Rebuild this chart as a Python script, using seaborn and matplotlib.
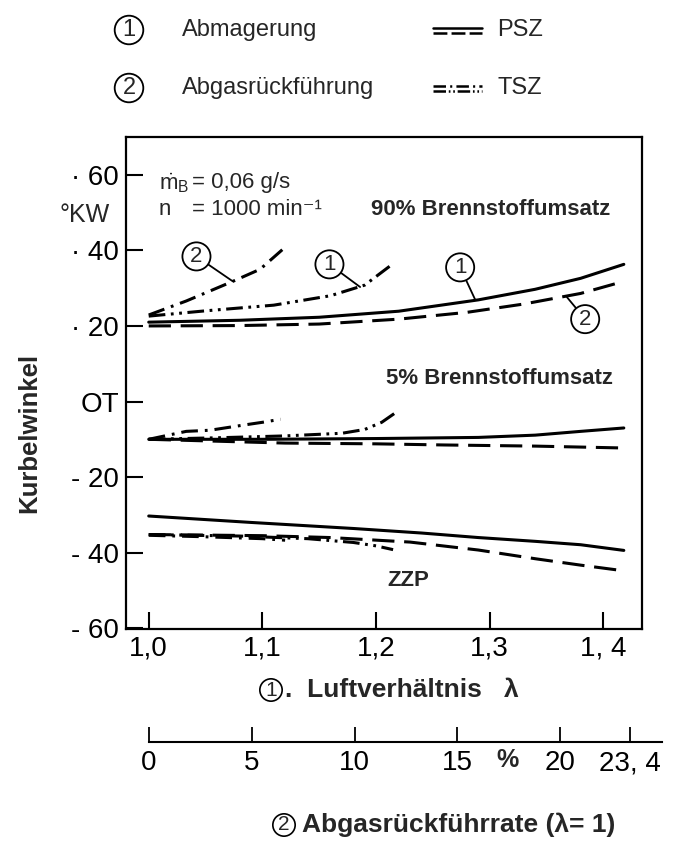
import numpy as np
import pandas as pd
import matplotlib.pyplot as plt
import seaborn as sns
from matplotlib.lines import Line2D

# Kurbelwinkel ueber Luftverhaeltnis (Abmagerung / Abgasrueckfuehrung)

sns.set_style('white')
plt.rcParams['font.family'] = ['Liberation Sans', 'DejaVu Sans']
plt.rcParams['mathtext.fontset'] = 'custom'
plt.rcParams['mathtext.rm'] = 'Liberation Sans'
plt.rcParams['mathtext.it'] = 'Liberation Sans:italic'
plt.rcParams['lines.scale_dashes'] = False

# 90% Brennstoffumsatz
lam_90_psz1 = [1.0, 1.08, 1.15, 1.22, 1.29, 1.34, 1.38, 1.418]
kw_90_psz1 = [21.0, 21.5, 22.3, 23.9, 26.9, 29.7, 32.6, 36.3]
lam_90_psz2 = [1.0, 1.08, 1.15, 1.22, 1.28, 1.33, 1.38, 1.418]
kw_90_psz2 = [20.0, 20.1, 20.5, 21.8, 23.6, 25.8, 28.6, 31.8]
lam_90_tsz1 = [1.0, 1.05, 1.11, 1.16, 1.19, 1.212]
kw_90_tsz1 = [22.6, 24.0, 25.5, 28.0, 30.8, 35.8]
lam_90_tsz2 = [1.0, 1.033, 1.074, 1.098, 1.118]
kw_90_tsz2 = [22.9, 26.6, 31.8, 35.0, 40.3]

# 5% Brennstoffumsatz
lam_5_psz1 = [1.0, 1.1, 1.2, 1.29, 1.34, 1.38, 1.418]
kw_5_psz1 = [-10.0, -10.0, -9.8, -9.5, -8.9, -7.9, -7.0]
lam_5_psz2 = [1.0, 1.06, 1.12, 1.2, 1.26, 1.34, 1.418]
kw_5_psz2 = [-10.0, -10.5, -11.0, -11.2, -11.5, -11.8, -12.3]
lam_5_tsz1 = [1.0, 1.06, 1.12, 1.17, 1.19, 1.205, 1.216]
kw_5_tsz1 = [-10.0, -9.6, -9.1, -8.4, -7.4, -5.5, -3.2]
lam_5_tsz2 = [1.0, 1.033, 1.054, 1.082, 1.1, 1.116]
kw_5_tsz2 = [-10.0, -7.9, -7.6, -6.3, -5.5, -4.7]

# ZZP
lam_zzp_psz1 = [1.0, 1.09, 1.18, 1.24, 1.29, 1.34, 1.38, 1.418]
kw_zzp_psz1 = [-30.3, -32.0, -33.6, -34.8, -36.0, -37.0, -37.9, -39.4]
lam_zzp_psz2 = [1.0, 1.1, 1.16, 1.23, 1.29, 1.34, 1.38, 1.418]
kw_zzp_psz2 = [-35.2, -35.5, -36.0, -37.2, -39.3, -41.6, -43.3, -44.8]
lam_zzp_tsz1 = [1.0, 1.08, 1.14, 1.18, 1.2, 1.215]
kw_zzp_tsz1 = [-35.2, -35.6, -36.3, -37.3, -38.2, -39.2]
lam_zzp_tsz2 = [1.0, 1.05, 1.1, 1.12]
kw_zzp_tsz2 = [-35.4, -35.8, -36.3, -36.7]

lam_ticks = [1.0, 1.1, 1.2, 1.3, 1.4]
lam_labels = ['1,0', '1,1', '1,2', '1,3', '1, 4']
kw_ticks = [60, 40, 20, 0, -20, -40, -60]
kw_labels = ['· 60', '· 40', '· 20', 'OT', '- 20', '- 40', '- 60']
agr_ticks = [0, 5, 10, 15, 20, 23.4]
agr_labels = ['0', '5', '10', '15', '20', '23, 4']

kurven = [
    (lam_90_psz1, kw_90_psz1, 'PSZ1'), (lam_90_psz2, kw_90_psz2, 'PSZ2'),
    (lam_90_tsz1, kw_90_tsz1, 'TSZ1'), (lam_90_tsz2, kw_90_tsz2, 'TSZ2'),
    (lam_5_psz1, kw_5_psz1, 'PSZ1'), (lam_5_psz2, kw_5_psz2, 'PSZ2'),
    (lam_5_tsz1, kw_5_tsz1, 'TSZ1'), (lam_5_tsz2, kw_5_tsz2, 'TSZ2'),
    (lam_zzp_psz1, kw_zzp_psz1, 'PSZ1'), (lam_zzp_psz2, kw_zzp_psz2, 'PSZ2'),
    (lam_zzp_tsz1, kw_zzp_tsz1, 'TSZ1'), (lam_zzp_tsz2, kw_zzp_tsz2, 'TSZ2'),
]
stile = {
    'PSZ1': '-',
    'PSZ2': (0, (16, 7)),
    'TSZ1': (0, (12, 4, 2, 4, 2, 4)),
    'TSZ2': (0, (12, 5, 2, 5)),
}

W, H = 676, 842
fig = plt.figure(figsize=(W / 100, H / 100), dpi=100)
fig.patch.set_facecolor('white')
ax = fig.add_axes([126 / W, 1 - 629 / H, 516 / W, 492 / H])

for lam, kw, art in kurven:
    df = pd.DataFrame({'lam': lam, 'kw': kw})
    sns.lineplot(data=df, x='lam', y='kw', ax=ax, color='black', lw=2.2,
                 linestyle=stile[art], errorbar=None)

ax.set_xlim(0.980, 1.434)
ax.set_ylim(-60.2, 70)
ax.set_xticks(lam_ticks, labels=lam_labels)
ax.set_yticks(kw_ticks, labels=kw_labels)
ax.tick_params(direction='in', length=12, width=1.5, labelsize=20, pad=5,
               bottom=True, left=True, colors='black')
ax.set_xlabel('')
ax.set_ylabel('')
for s in ax.spines.values():
    s.set_linewidth(1.6)
    s.set_color('black')

# Texte im Diagramm
ax.text(1.009, 57.9, r'$\dot{\mathrm{m}}_{\mathrm{B}}$', fontsize=16, va='center', ha='left')
ax.text(1.038, 57.9, '= 0,06 g/s', fontsize=16, va='center', ha='left')
ax.text(1.009, 50.8, 'n', fontsize=16, va='center', ha='left')
ax.text(1.038, 50.8, '= 1000 min⁻¹', fontsize=16, va='center', ha='left')
ax.text(1.196, 50.8, '90% Brennstoffumsatz', fontsize=16, fontweight='bold', va='center', ha='left')
ax.text(1.209, 6.0, '5% Brennstoffumsatz', fontsize=16, fontweight='bold', va='center', ha='left')
ax.text(1.21, -47.4, 'ZZP', fontsize=16, fontweight='bold', va='center', ha='left')

kreis = dict(boxstyle='circle,pad=0.16', fc='white', ec='black', lw=1.3)
pfeil = dict(arrowstyle='-', lw=1.3, color='black', shrinkA=0, shrinkB=0)
for nr, ziel, pos in [('2', (1.074, 31.8), (1.042, 38.4)),
                      ('1', (1.186, 30.3), (1.159, 36.3)),
                      ('1', (1.287, 27.1), (1.274, 35.5)),
                      ('2', (1.368, 27.6), (1.384, 21.8))]:
    ax.annotate(nr, xy=ziel, xytext=pos, fontsize=16, ha='center', va='center',
                bbox=kreis, arrowprops=pfeil)

# Achsbeschriftungen
fig.text(29 / W, 1 - 433 / H, 'Kurbelwinkel', rotation=90, ha='center', va='center',
         fontsize=18.5, fontweight='bold')
fig.text(110 / W, 1 - 215 / H, '°KW', ha='right', va='center', fontsize=18)

fig.text(271 / W, 1 - 690 / H, '1', ha='center', va='center', fontsize=15,
         bbox=dict(boxstyle='circle,pad=0.08', fc='white', ec='black', lw=1.2))
fig.text(285 / W, 1 - 690 / H, '.  Luftverhältnis   λ', ha='left', va='center',
         fontsize=19, fontweight='bold')

# zweite Skala: Abgasrueckfuehrrate
ax2 = fig.add_axes([149 / W, 1 - 742 / H, 513 / W, 0.0001])
ax2.set_xlim(0, 24.95)
ax2.set_yticks([])
ax2.set_xticks(agr_ticks, labels=agr_labels)
ax2.patch.set_visible(False)
for k in ['top', 'left', 'right']:
    ax2.spines[k].set_visible(False)
ax2.spines['bottom'].set_linewidth(1.5)
ax2.spines['bottom'].set_color('black')
ax2.tick_params(direction='in', length=11, width=1.3, labelsize=20, pad=6,
                bottom=True, colors='black')
fig.text(508 / W, 1 - 760 / H, '%', ha='center', va='center', fontsize=18, fontweight='bold')

fig.text(284 / W, 1 - 825 / H, '2', ha='center', va='center', fontsize=15,
         bbox=dict(boxstyle='circle,pad=0.08', fc='white', ec='black', lw=1.2))
fig.text(302 / W, 1 - 825 / H, 'Abgasrückführrate (λ= 1)', ha='left', va='center',
         fontsize=19, fontweight='bold')

# Legende oben
for nr, y, txt, name, st_oben, st_unten in [
        ('1', 30, 'Abmagerung', 'PSZ', '-', (0, (10, 3))),
        ('2', 88, 'Abgasrückführung', 'TSZ', (0, (9, 3, 1.5, 3)), (0, (9, 2, 1.2, 2, 1.2, 2)))]:
    fig.text(129 / W, 1 - y / H, nr, ha='center', va='center', fontsize=17,
             bbox=dict(boxstyle='circle,pad=0.14', fc='white', ec='black', lw=1.3))
    fig.text(182 / W, 1 - y / H, txt, ha='left', va='center', fontsize=17)
    fig.text(497 / W, 1 - y / H, name, ha='left', va='center', fontsize=17)
    fig.add_artist(Line2D([433 / W, 482 / W], [1 - (y - 2) / H, 1 - (y - 2) / H],
                          transform=fig.transFigure, color='black', lw=1.8, linestyle=st_oben))
    fig.add_artist(Line2D([433 / W, 482 / W], [1 - (y + 3) / H, 1 - (y + 3) / H],
                          transform=fig.transFigure, color='black', lw=1.8, linestyle=st_unten))

fig.savefig('out.png', dpi=100, facecolor='white')
